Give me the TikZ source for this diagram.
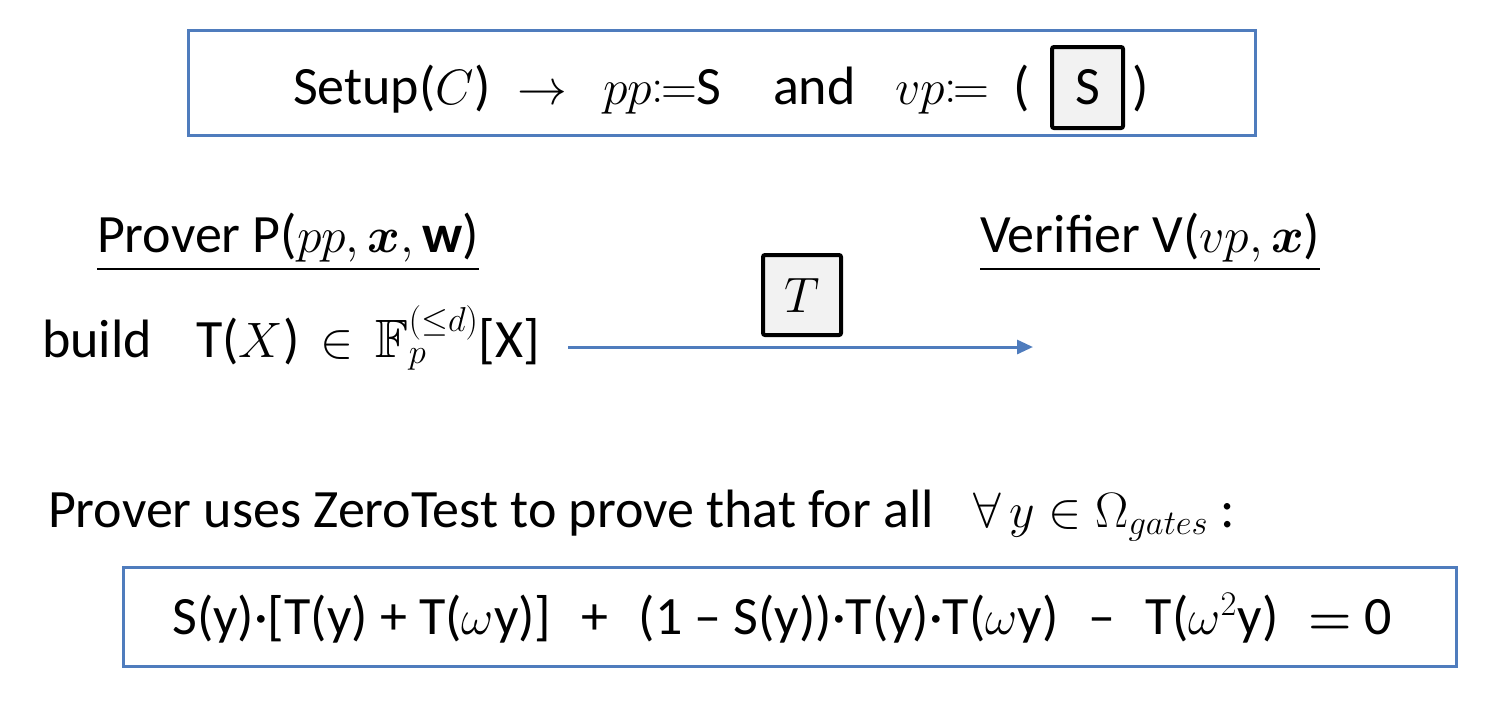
\documentclass[tikz,border=0pt]{standalone}
\usepackage{amssymb}
\usepackage{mathtools}
\usepackage{bm}
\usepackage{fontspec}
\setmainfont{Carlito}
\usetikzlibrary{arrows.meta}
\definecolor{bblue}{RGB}{79,124,189}
\definecolor{boxgray}{RGB}{242,242,242}
\newcommand{\bigscr}[1]{\mbox{\fontsize{19}{19}\selectfont$#1$}}
\tikzset{
  txt/.style={inner sep=0pt, outer sep=0pt, font=\fontsize{27}{33}\selectfont},
  bluebox/.style={draw=bblue, line width=1.5pt},
  graybox/.style={draw=black, fill=boxgray, line width=2pt, rounded corners=1pt},
  flow/.style={draw=bblue, line width=1.5pt, -{Triangle[length=8pt,width=7pt]}}
}
\begin{document}
\begin{tikzpicture}[x=0.5pt,y=-0.5pt]
\useasboundingbox (0,0) rectangle (1494,708);
% top box
\draw[bluebox] (188,30) rectangle (1255,135);
\node[txt, anchor=base west] (setup) at (293,104) {Setup($C$)};
\node[txt, anchor=base] (sarr) at (542,104) {$\rightarrow$};
\node[txt, anchor=base west] (pp) at (603,104) {$pp{\coloneqq}$S};
\node[txt, anchor=base west] (and) at (773,104) {and};
\node[txt, anchor=base west] (vp) at (895,104) {$vp{\coloneqq}$};
\node[txt, anchor=base west] (lpar) at (1013,104) {(};
\node[graybox, minimum width=35.5pt, minimum height=40.5pt, inner sep=0pt] (sbox) at (1087.5,87.5) {};
\node[txt, anchor=base] (slab) at (sbox.center |- setup.base) {S};
\node[txt, anchor=base west] (rpar) at (1132,104) {)};
% prover / verifier
\node[txt, anchor=base west] (prover) at (97,252) {\underline{Prover P($pp,\bm{x},\mathbf{w}$)}};
\node[txt, anchor=base west] (verifier) at (980,252) {\underline{Verifier V($vp,\bm{x}$)}};
% T box
\node[graybox, minimum width=39pt, minimum height=40pt, inner sep=0pt] (tbox) at (802,295) {};
\node[txt, font=\fontsize{30}{36}\selectfont] (tlab) at (tbox.center) {$T$};
% build
\node[txt, anchor=base west] (build) at (42,357) {build};
\node[txt, anchor=base west] (tx) at (196,357) {T($X$)\, $\in\, \mathbb{F}_{\bigscr{p}}^{\bigscr{({\le}d)}}$[X]};
\coordinate (as) at (568,347);
\coordinate (ae) at (1033,347);
\draw[flow] (as) -- (ae);
% zero test
\node[txt, anchor=base west] (zt) at (48,527) {Prover uses ZeroTest to prove that for all\,\,\, $\forall\, y\in\Omega_{gates}$ :};
% bottom box
\draw[bluebox] (123,567) rectangle (1456,666);
\node[txt, anchor=base] (eq) at (782,634) {S(y)·[T(y) + T($\omega$y)]\,\, +\,\, (1 – S(y))·T(y)·T($\omega$y)\,\, –\,\, T($\omega^2$y)\,\, $\bm{=}$ 0};
\end{tikzpicture}
\end{document}
